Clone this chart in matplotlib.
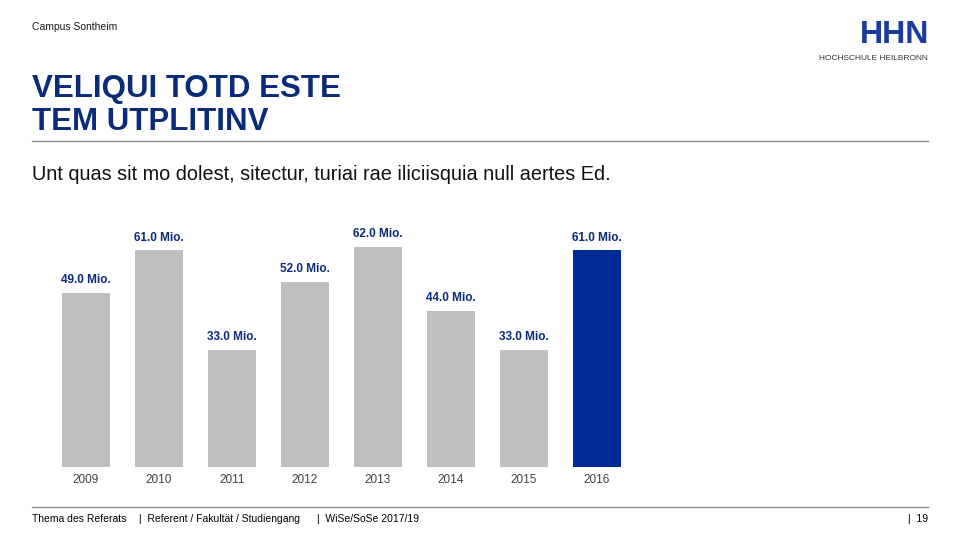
import matplotlib
matplotlib.use("Agg")
import matplotlib.pyplot as plt

plt.rcParams["font.family"] = ["Liberation Sans", "DejaVu Sans"]

years = ["2009", "2010", "2011", "2012", "2013", "2014", "2015", "2016"]
values = [49.0, 61.0, 33.0, 52.0, 62.0, 44.0, 33.0, 61.0]
highlight = "2016"

W, H = 960, 540
NAVY = "#0a2a7a"
BLUE = "#002b96"
GREY_BAR = "#bfbfbf"
LINE = "#8c8c8c"


def fx(px):
    return px / W


def fy(py):
    return 1 - py / H


fig = plt.figure(figsize=(9.6, 5.4), dpi=100)

# header
fig.text(fx(32), fy(27), "Campus Sontheim", fontsize=7.5, va="center", color="#1a1a1a")
fig.text(fx(32), fy(89), "VELIQUI TOTD ESTE", fontsize=22.5, fontweight="bold",
         color=NAVY, va="center")
fig.text(fx(32), fy(122), "TEM UTPLITINV", fontsize=22.5, fontweight="bold",
         color=NAVY, va="center")
fig.text(fx(32), fy(174), "Unt quas sit mo dolest, sitectur, turiai rae iliciisquia null aertes Ed.",
         fontsize=14.3, va="center", color="#111111")
fig.add_artist(plt.Line2D([fx(32), fx(928)], [fy(141), fy(141)], color=LINE, lw=1))

# logo
fig.text(fx(929), fy(35), "HHN", fontsize=23, fontweight="bold", color="#1b3c9e",
         ha="right", va="center")
fig.text(fx(928), fy(58), "HOCHSCHULE HEILBRONN", fontsize=6, color="#333333",
         ha="right", va="center")

# footer
fig.add_artist(plt.Line2D([fx(32), fx(928)], [fy(507), fy(507)], color=LINE, lw=1))
fig.text(fx(32), fy(519), "Thema des Referats", fontsize=7.5, va="center")
fig.text(fx(139), fy(519), "|  Referent / Fakultät / Studiengang", fontsize=7.5, va="center")
fig.text(fx(317), fy(519), "|  WiSe/SoSe 2017/19", fontsize=7.5, va="center")
fig.text(fx(928), fy(519), "|  19", fontsize=7.5, va="center", ha="right")

# chart
left, right = 49.5, 633.5
bottom, top = 467, 218.5
ax = fig.add_axes([fx(left), fy(bottom), fx(right - left), (bottom - top) / H])
x = range(len(years))
colors = [BLUE if y == highlight else GREY_BAR for y in years]
bars = ax.bar(x, values, width=0.66, color=colors)
for r, v in zip(bars, values):
    ax.annotate(f"{v:.1f} Mio.", (r.get_x() + r.get_width() / 2, v),
                xytext=(0, 5), textcoords="offset points",
                ha="center", va="bottom", fontsize=8.5, fontweight="bold", color=NAVY)
ax.set_xlim(-0.5, len(years) - 0.5)
ax.set_ylim(0, 70)
ax.set_xticks(list(x))
ax.set_xticklabels(years, fontsize=8.5, color="#404040")
ax.tick_params(axis="x", length=0, pad=5)
ax.set_yticks([])
for s in ax.spines.values():
    s.set_visible(False)
ax.patch.set_alpha(0)

fig.savefig("out.png", dpi=100)
